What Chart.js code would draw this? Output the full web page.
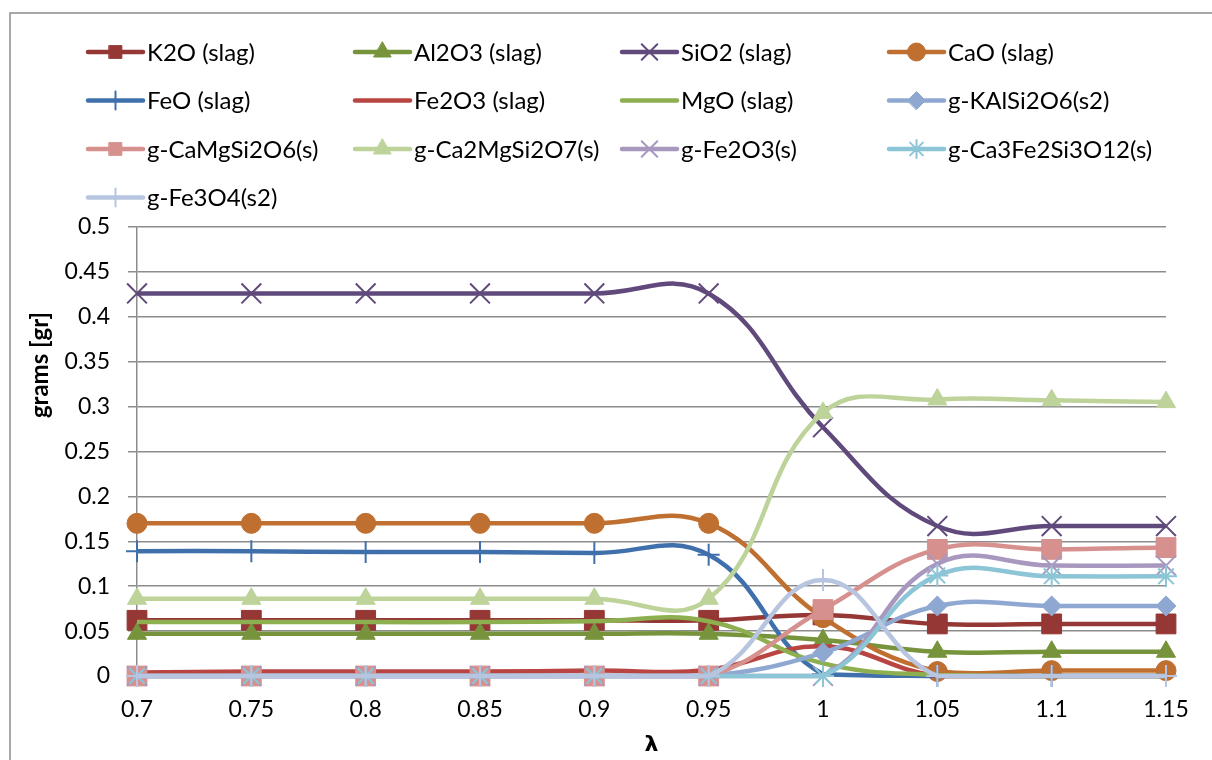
<!DOCTYPE html>
<html lang="en">
<head>
    <meta charset="UTF-8" />
    <title>Slag phases vs lambda</title>
    <script src="https://cdn.jsdelivr.net/npm/chart.js"></script>
    <style>
        html, body { margin: 0; padding: 0; background: #fff; }
        #wrap { width: 1212px; height: 760px; position: relative; }
    </style>
</head>
<body>
    <div id="wrap">
        <canvas id="phaseChart" width="1212" height="760"></canvas>
    </div>

    <script>
        // lambda values on the category axis
        const lambdas = ['0.7', '0.75', '0.8', '0.85', '0.9', '0.95', '1', '1.05', '1.1', '1.15'];
        const yTickLabels = ['0', '0.05', '0.1', '0.15', '0.2', '0.25', '0.3', '0.35', '0.4', '0.45', '0.5'];

        // grams per phase at each lambda
        const k2oSlag      = [0.062, 0.062, 0.062, 0.062, 0.062, 0.062, 0.068, 0.058, 0.058, 0.058];
        const al2o3Slag    = [0.047, 0.047, 0.047, 0.047, 0.047, 0.047, 0.040, 0.027, 0.027, 0.027];
        const sio2Slag     = [0.426, 0.426, 0.426, 0.426, 0.426, 0.426, 0.277, 0.167, 0.167, 0.167];
        const caoSlag      = [0.170, 0.170, 0.170, 0.170, 0.170, 0.170, 0.065, 0.005, 0.006, 0.006];
        const feoSlag      = [0.139, 0.139, 0.138, 0.138, 0.137, 0.135, 0.002, 0, 0, 0];
        const fe2o3Slag    = [0.004, 0.005, 0.005, 0.005, 0.006, 0.007, 0.033, 0, 0, 0];
        const mgoSlag      = [0.060, 0.060, 0.060, 0.060, 0.061, 0.061, 0.014, 0.001, 0, 0];
        const kAlSi2O6     = [0, 0, 0, 0, 0, 0, 0.026, 0.078, 0.078, 0.078];
        const caMgSi2O6    = [0, 0, 0, 0, 0, 0, 0.074, 0.141, 0.141, 0.143];
        const ca2MgSi2O7   = [0.086, 0.086, 0.086, 0.086, 0.086, 0.086, 0.293, 0.308, 0.307, 0.305];
        const fe2o3Solid   = [0, 0, 0, 0, 0, 0, 0, 0.125, 0.123, 0.123];
        const ca3Fe2Si3O12 = [0, 0, 0, 0, 0, 0, 0, 0.112, 0.111, 0.111];
        const fe3o4Solid   = [0, 0, 0, 0, 0, 0, 0.107, 0, 0, 0];

        const FONT = 'Lato, "Open Sans", sans-serif';
        const GRID = '#8c8c8c';

        function series(label, data, color, style, radius, borderW) {
            return {
                label: label,
                data: data,
                borderColor: color,
                backgroundColor: color,
                pointBackgroundColor: color,
                pointBorderColor: color,
                pointStyle: style || false,
                pointRadius: style ? radius : 0,
                pointHoverRadius: style ? radius : 0,
                pointBorderWidth: borderW || 1,
                borderWidth: 4.5,
                tension: 0.42,
                clip: false
            };
        }

        const datasets = [
            series('K2O (slag)', k2oSlag, '#953735', 'rect', 14, 1),
            series('Al2O3 (slag)', al2o3Slag, '#77933c', 'triangle', 11, 1),
            series('SiO2 (slag)', sio2Slag, '#604a7b', 'crossRot', 14, 2),
            series('CaO (slag)', caoSlag, '#bf6f30', 'circle', 10, 1),
            series('FeO (slag)', feoSlag, '#4070ac', 'cross', 11, 2),
            series('Fe2O3 (slag)', fe2o3Slag, '#b84542', null),
            series('MgO (slag)', mgoSlag, '#8daf4f', null),
            series('g-KAlSi2O6(s2)', kAlSi2O6, '#8fa8d2', 'rectRot', 10, 1),
            series('g-CaMgSi2O6(s)', caMgSi2O6, '#d6908e', 'rect', 14, 1),
            series('g-Ca2MgSi2O7(s)', ca2MgSi2O7, '#bdd39a', 'triangle', 11, 1),
            series('g-Fe2O3(s)', fe2o3Solid, '#a898bf', 'crossRot', 14, 2),
            series('g-Ca3Fe2Si3O12(s)', ca3Fe2Si3O12, '#8cc5d6', 'star', 11, 2),
            series('g-Fe3O4(s2)', fe3o4Solid, '#b7c5e0', 'cross', 11, 2)
        ];
        // later series are painted over earlier ones
        datasets.forEach((ds, i) => { ds.order = datasets.length - i; });

        // legend markers are drawn a little smaller than on the lines
        const legendRadius = { rect: 9, triangle: 10, crossRot: 11, circle: 9, cross: 9, rectRot: 9, star: 9 };

        // frame, grid legend and the rotated y title
        const decorations = {
            id: 'decorations',
            beforeDraw(chart) {
                const ctx = chart.ctx;
                ctx.save();
                ctx.fillStyle = '#fff';
                ctx.fillRect(0, 0, chart.width, chart.height);
                ctx.strokeStyle = '#8c8c8c';
                ctx.lineWidth = 1.5;
                ctx.strokeRect(10, 13, 1400, 900);
                ctx.restore();
            },
            afterDraw(chart) {
                const ctx = chart.ctx;
                ctx.save();
                chart.data.datasets.forEach((ds, i) => {
                    const col = i % 4;
                    const row = Math.floor(i / 4);
                    const x0 = 88 + col * 267;
                    const y = 52 + row * 48.5;
                    ctx.strokeStyle = ds.borderColor;
                    ctx.lineWidth = 4.5;
                    ctx.lineCap = 'round';
                    ctx.beginPath();
                    ctx.moveTo(x0, y);
                    ctx.lineTo(x0 + 55, y);
                    ctx.stroke();
                    if (ds.pointStyle) {
                        ctx.fillStyle = ds.pointBackgroundColor;
                        ctx.strokeStyle = ds.pointBorderColor;
                        ctx.lineWidth = ds.pointBorderWidth;
                        Chart.helpers.drawPoint(ctx, {
                            pointStyle: ds.pointStyle,
                            radius: legendRadius[ds.pointStyle],
                            rotation: 0,
                            borderWidth: ds.pointBorderWidth
                        }, x0 + 27.5, y);
                    }
                    ctx.fillStyle = '#000';
                    ctx.font = '24px ' + FONT;
                    ctx.textAlign = 'left';
                    ctx.textBaseline = 'middle';
                    ctx.fillText(ds.label, x0 + 59, y + 1);
                });

                ctx.translate(40, 365);
                ctx.rotate(-Math.PI / 2);
                ctx.font = 'bold 24px ' + FONT;
                ctx.textAlign = 'center';
                ctx.textBaseline = 'middle';
                ctx.fillText('grams [gr]', 0, 0);
                ctx.restore();
            }
        };

        new Chart(document.getElementById('phaseChart'), {
            type: 'line',
            data: { labels: lambdas, datasets: datasets },
            options: {
                responsive: false,
                animation: false,
                events: [],
                layout: { padding: { left: 0, right: 46, top: 227, bottom: 0 } },
                plugins: {
                    legend: { display: false },
                    tooltip: { enabled: false }
                },
                scales: {
                    x: {
                        type: 'category',
                        offset: false,
                        afterFit(scale) { scale.height = 84; },
                        border: { display: true, color: GRID, width: 1.5 },
                        grid: {
                            color: 'transparent',
                            tickColor: 'transparent',
                            tickLength: 8
                        },
                        ticks: {
                            color: '#000',
                            padding: 12,
                            maxRotation: 0,
                            font: { family: FONT, size: 23 }
                        },
                        title: {
                            display: true,
                            text: 'λ',
                            color: '#000',
                            padding: { top: 2, bottom: 2 },
                            font: { family: '"DejaVu Sans", sans-serif', size: 22, weight: 'bold' }
                        }
                    },
                    y: {
                        min: 0,
                        max: 0.5,
                        afterFit(scale) { scale.width = 137; },
                        border: { display: true, color: GRID, width: 1.5 },
                        grid: {
                            color: GRID,
                            lineWidth: 1.5,
                            tickColor: GRID,
                            tickLength: 9
                        },
                        ticks: {
                            stepSize: 0.05,
                            color: '#000',
                            padding: 18,
                            font: { family: FONT, size: 23 },
                            callback: (v, i) => yTickLabels[i]
                        }
                    }
                }
            },
            plugins: [decorations]
        });
    </script>
</body>
</html>
